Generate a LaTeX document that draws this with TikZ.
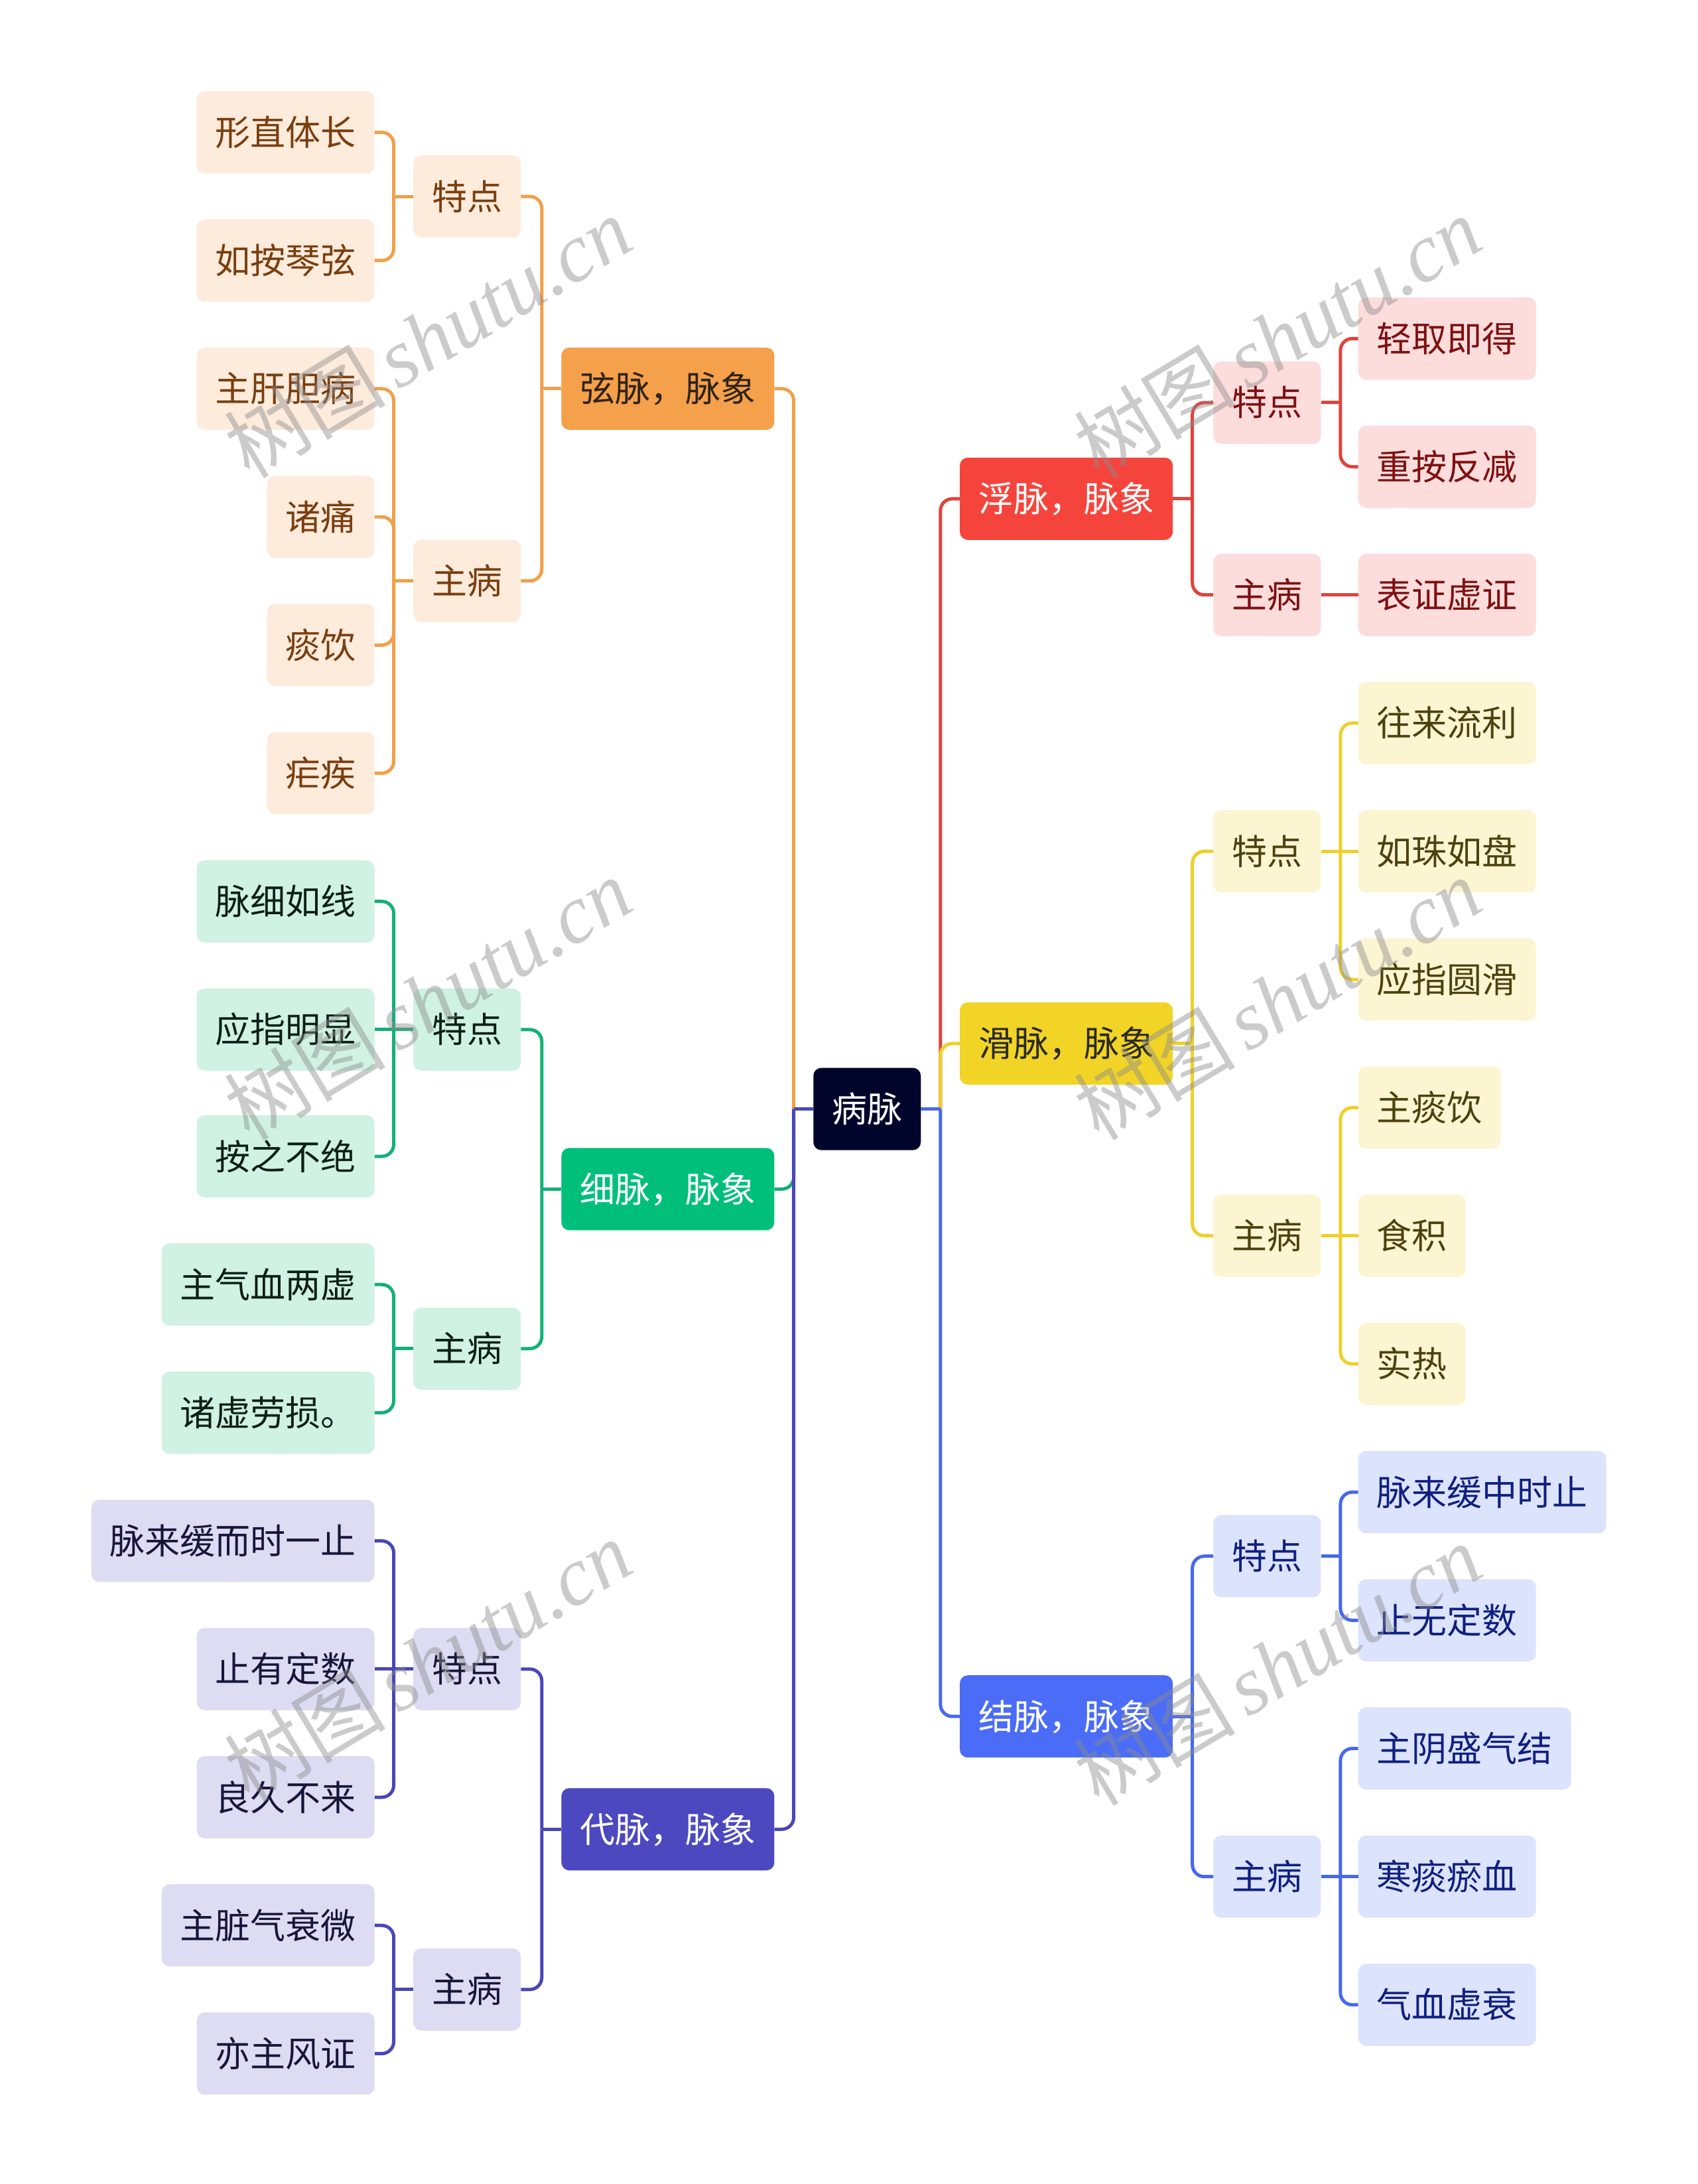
\documentclass[tikz,border=0pt]{standalone}
\usepackage{fontspec}
\setmainfont{Liberation Sans}
\newfontfamily\cjk{Noto Sans CJK SC}
\newfontfamily\wmserif{Liberation Serif}
\definecolor{rootc}{HTML}{02052B}
\definecolor{orgL}{HTML}{F0A04B}
\definecolor{orgF}{HTML}{F5A04A}
\definecolor{orgS}{HTML}{FDEBDC}
\definecolor{orgT}{HTML}{7A3E0E}
\definecolor{orgD}{HTML}{2E2418}
\definecolor{redL}{HTML}{E0443C}
\definecolor{redF}{HTML}{F5443C}
\definecolor{redS}{HTML}{FDDCDC}
\definecolor{redT}{HTML}{7E1010}
\definecolor{yelL}{HTML}{EDD02A}
\definecolor{yelF}{HTML}{F2D427}
\definecolor{yelS}{HTML}{FCF5D2}
\definecolor{yelT}{HTML}{4D420E}
\definecolor{yelD}{HTML}{2A2A20}
\definecolor{grnL}{HTML}{14B077}
\definecolor{grnF}{HTML}{00BF7A}
\definecolor{grnS}{HTML}{CFF2E3}
\definecolor{grnT}{HTML}{0E1F17}
\definecolor{bluL}{HTML}{4668EE}
\definecolor{bluF}{HTML}{4A6CF7}
\definecolor{bluS}{HTML}{DCE3FC}
\definecolor{bluT}{HTML}{0F2080}
\definecolor{indL}{HTML}{4A47B6}
\definecolor{indF}{HTML}{4C48C0}
\definecolor{indS}{HTML}{DEDCF3}
\definecolor{indT}{HTML}{16163A}
\tikzset{
  nb/.style={rounded corners=12pt, minimum height=124pt, inner xsep=28pt, inner ysep=0pt,
    text height=45pt, text depth=5pt, font=\cjk\fontsize{53}{60}\selectfont},
  lb/.style={nb, anchor=east},
  rb/.style={nb, anchor=west},
  conn/.style={line width=5pt, rounded corners=18pt},
  ora1/.style={fill=orgF, text=orgD}, ora/.style={fill=orgS, text=orgT},
  red1/.style={fill=redF, text=white}, redb/.style={fill=redS, text=redT},
  yel1/.style={fill=yelF, text=yelD}, yel/.style={fill=yelS, text=yelT},
  grn1/.style={fill=grnF, text=white}, grn/.style={fill=grnS, text=grnT},
  blu1/.style={fill=bluF, text=white}, blu/.style={fill=bluS, text=bluT},
  ind1/.style={fill=indF, text=white}, ind/.style={fill=indS, text=indT},
  wm/.style={rotate=31, text=black!45, opacity=0.45, inner sep=0pt},
}
\begin{document}
\begin{tikzpicture}[x=2.1pt,y=-2.1pt]
\useasboundingbox[fill=white] (0,0) rectangle (1219.048,1567.619);
% root
\node[nb, fill=rootc, text=white] (root) at (622.5,796) {病脉};
% level 1
\node[lb, ora1] (xian) at (556,279) {弦脉，脉象};
\node[lb, grn1] (xi) at (556,853.5) {细脉，脉象};
\node[lb, ind1] (dai) at (556,1313) {代脉，脉象};
\node[rb, red1] (fu) at (689,358) {浮脉，脉象};
\node[rb, yel1] (hua) at (689,749) {滑脉，脉象};
\node[rb, blu1] (jie) at (689,1232) {结脉，脉象};
% level 2 left
\node[lb, ora] (xianT) at (374,141) {特点};
\node[lb, ora] (xianZ) at (374,417) {主病};
\node[lb, grn] (xiT) at (374,739) {特点};
\node[lb, grn] (xiZ) at (374,968) {主病};
\node[lb, ind] (daiT) at (374,1198) {特点};
\node[lb, ind] (daiZ) at (374,1428) {主病};
% level 2 right
\node[rb, redb] (fuT) at (871,289) {特点};
\node[rb, redb] (fuZ) at (871,427) {主病};
\node[rb, yel] (huaT) at (871,611) {特点};
\node[rb, yel] (huaZ) at (871,887) {主病};
\node[rb, blu] (jieT) at (871,1117) {特点};
\node[rb, blu] (jieZ) at (871,1347) {主病};
% level 3 left
\node[lb, ora] (a1) at (269,95) {形直体长};
\node[lb, ora] (a2) at (269,187) {如按琴弦};
\node[lb, ora] (a3) at (269,279) {主肝胆病};
\node[lb, ora] (a4) at (269,371) {诸痛};
\node[lb, ora] (a5) at (269,463) {痰饮};
\node[lb, ora] (a6) at (269,555) {疟疾};
\node[lb, grn] (a7) at (269,647) {脉细如线};
\node[lb, grn] (a8) at (269,739) {应指明显};
\node[lb, grn] (a9) at (269,830) {按之不绝};
\node[lb, grn] (a10) at (269,922) {主气血两虚};
\node[lb, grn] (a11) at (269,1014) {诸虚劳损。};
\node[lb, ind] (a12) at (269,1106) {脉来缓而时一止};
\node[lb, ind] (a13) at (269,1198) {止有定数};
\node[lb, ind] (a14) at (269,1290) {良久不来};
\node[lb, ind] (a15) at (269,1382) {主脏气衰微};
\node[lb, ind] (a16) at (269,1474) {亦主风证};
% level 3 right
\node[rb, redb] (b1) at (975,243) {轻取即得};
\node[rb, redb] (b2) at (975,335) {重按反减};
\node[rb, redb] (b3) at (975,427) {表证虚证};
\node[rb, yel] (b4) at (975,519) {往来流利};
\node[rb, yel] (b5) at (975,611) {如珠如盘};
\node[rb, yel] (b6) at (975,703) {应指圆滑};
\node[rb, yel] (b7) at (975,795) {主痰饮};
\node[rb, yel] (b8) at (975,887) {食积};
\node[rb, yel] (b9) at (975,979) {实热};
\node[rb, blu] (b10) at (975,1071) {脉来缓中时止};
\node[rb, blu] (b11) at (975,1163) {止无定数};
\node[rb, blu] (b12) at (975,1255) {主阴盛气结};
\node[rb, blu] (b13) at (975,1347) {寒痰瘀血};
\node[rb, blu] (b14) at (975,1439) {气血虚衰};
% ---------- connectors: root ----------
\draw[conn,orgL] (root.west) -- ++(-14,0) coordinate (rootL);
\draw[conn,orgL] (rootL) |- (xian.east);
\draw[conn,grnL] (rootL) |- (xi.east);
\draw[conn,indL] (rootL) |- (dai.east);
\draw[conn,indL] (root.west) -- (rootL);
\draw[conn,redL] (root.east) -- ++(14,0) coordinate (rootR);
\draw[conn,redL] (rootR) |- (fu.west);
\draw[conn,yelL] (rootR) |- (hua.west);
\draw[conn,bluL] (rootR) |- (jie.west);
\draw[conn,bluL] (root.east) -- (rootR);
% ---------- level 1 to level 2 ----------
\draw[conn,orgL] (xian.west) -- ++(-14,0) coordinate (xianJ);
\draw[conn,orgL] (xianJ) |- (xianT.east);
\draw[conn,orgL] (xianJ) |- (xianZ.east);
\draw[conn,grnL] (xi.west) -- ++(-14,0) coordinate (xiJ);
\draw[conn,grnL] (xiJ) |- (xiT.east);
\draw[conn,grnL] (xiJ) |- (xiZ.east);
\draw[conn,indL] (dai.west) -- ++(-14,0) coordinate (daiJ);
\draw[conn,indL] (daiJ) |- (daiT.east);
\draw[conn,indL] (daiJ) |- (daiZ.east);
\draw[conn,redL] (fu.east) -- ++(14,0) coordinate (fuJ);
\draw[conn,redL] (fuJ) |- (fuT.west);
\draw[conn,redL] (fuJ) |- (fuZ.west);
\draw[conn,yelL] (hua.east) -- ++(14,0) coordinate (huaJ);
\draw[conn,yelL] (huaJ) |- (huaT.west);
\draw[conn,yelL] (huaJ) |- (huaZ.west);
\draw[conn,bluL] (jie.east) -- ++(14,0) coordinate (jieJ);
\draw[conn,bluL] (jieJ) |- (jieT.west);
\draw[conn,bluL] (jieJ) |- (jieZ.west);
% ---------- level 2 to level 3 ----------
\draw[conn,orgL] (xianT.west) -- ++(-14,0) coordinate (xianTJ);
\draw[conn,orgL] (xianTJ) |- (a1.east);
\draw[conn,orgL] (xianTJ) |- (a2.east);
\draw[conn,orgL] (xianZ.west) -- ++(-14,0) coordinate (xianZJ);
\draw[conn,orgL] (xianZJ) |- (a3.east);
\draw[conn,orgL] (xianZJ) |- (a4.east);
\draw[conn,orgL] (xianZJ) |- (a5.east);
\draw[conn,orgL] (xianZJ) |- (a6.east);
\draw[conn,grnL] (xiT.west) -- ++(-14,0) coordinate (xiTJ);
\draw[conn,grnL] (xiTJ) |- (a7.east);
\draw[conn,grnL] (xiTJ) -- (a8.east);
\draw[conn,grnL] (xiTJ) |- (a9.east);
\draw[conn,grnL] (xiZ.west) -- ++(-14,0) coordinate (xiZJ);
\draw[conn,grnL] (xiZJ) |- (a10.east);
\draw[conn,grnL] (xiZJ) |- (a11.east);
\draw[conn,indL] (daiT.west) -- ++(-14,0) coordinate (daiTJ);
\draw[conn,indL] (daiTJ) |- (a12.east);
\draw[conn,indL] (daiTJ) -- (a13.east);
\draw[conn,indL] (daiTJ) |- (a14.east);
\draw[conn,indL] (daiZ.west) -- ++(-14,0) coordinate (daiZJ);
\draw[conn,indL] (daiZJ) |- (a15.east);
\draw[conn,indL] (daiZJ) |- (a16.east);
\draw[conn,redL] (fuT.east) -- ++(14,0) coordinate (fuTJ);
\draw[conn,redL] (fuTJ) |- (b1.west);
\draw[conn,redL] (fuTJ) |- (b2.west);
\draw[conn,redL] (fuZ.east) -- (b3.west);
\draw[conn,yelL] (huaT.east) -- ++(14,0) coordinate (huaTJ);
\draw[conn,yelL] (huaTJ) |- (b4.west);
\draw[conn,yelL] (huaTJ) -- (b5.west);
\draw[conn,yelL] (huaTJ) |- (b6.west);
\draw[conn,yelL] (huaZ.east) -- ++(14,0) coordinate (huaZJ);
\draw[conn,yelL] (huaZJ) |- (b7.west);
\draw[conn,yelL] (huaZJ) -- (b8.west);
\draw[conn,yelL] (huaZJ) |- (b9.west);
\draw[conn,bluL] (jieT.east) -- ++(14,0) coordinate (jieTJ);
\draw[conn,bluL] (jieTJ) |- (b10.west);
\draw[conn,bluL] (jieTJ) |- (b11.west);
\draw[conn,bluL] (jieZ.east) -- ++(14,0) coordinate (jieZJ);
\draw[conn,bluL] (jieZJ) |- (b12.west);
\draw[conn,bluL] (jieZJ) -- (b13.west);
\draw[conn,bluL] (jieZJ) |- (b14.west);
% ---------- watermarks ----------
\foreach \i/\wx/\wy in {1/307/242, 2/917/242, 3/307/717, 4/917/717, 5/307/1192, 6/917/1195} {
  \node[wm] (wm\i) at (\wx,\wy) {{\cjk\fontsize{122}{130}\selectfont 树图}\hspace{18pt}{\wmserif\itshape\fontsize{125}{130}\selectfont shutu.cn}};
}
\end{tikzpicture}
\end{document}
